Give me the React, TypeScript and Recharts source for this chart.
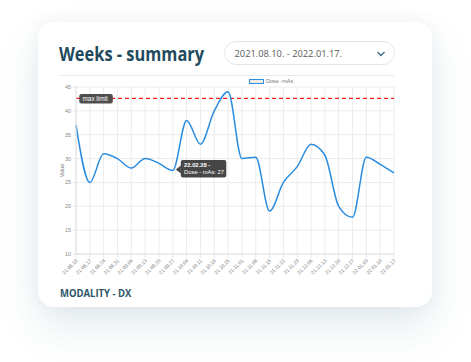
import React from 'react';
import { LineChart, Line, XAxis, YAxis, CartesianGrid, ReferenceLine, ReferenceDot } from 'recharts';

const weekLabels = [
  '21.08.10', '21.08.17', '21.08.24', '21.08.31', '21.09.06', '21.09.13',
  '21.09.20', '21.09.27', '21.10.04', '21.10.11', '21.10.18', '21.10.25',
  '21.11.01', '21.11.08', '21.11.15', '21.11.22', '21.11.29', '21.12.06',
  '21.12.13', '21.12.20', '21.12.27', '22.01.03', '22.01.10', '22.01.17',
];
const doseValues = [
  37, 25, 31, 30, 28, 30,
  29, 27.5, 38, 33, 40, 44,
  30, 30.3, 19, 25, 28.3, 33,
  30.7, 20, 17.7, 30.3, 28.8, 27,
];
const yTicks = [10, 15, 20, 25, 30, 35, 40, 45];
const maxLimit = 42.6;
const tooltipIndex = 7;
const tooltipTitle = '22.02.28 -';
const tooltipBody = 'Dose - mAs: 27';
const seriesName = 'Dose -mAs';

const data = weekLabels.map((w, i) => ({ week: w, dose: doseValues[i] }));

const BLUE = '#2b8ce0';
const TICK_FONT = '"Liberation Sans", Arial, sans-serif';

const XTick = (props: any) => {
  const { x, y, payload } = props;
  const ax = x + 2;
  const ay = y + 1;
  return (
    <text x={ax} y={ay} transform={`rotate(-45 ${ax} ${ay})`} textAnchor="end" fontSize={5} fill="#777" fontFamily={TICK_FONT}>
      {payload.value}
    </text>
  );
};

const YLabel = (props: any) => {
  const vb = props.viewBox || { x: 46, y: 87, width: 30, height: 167 };
  const cx = vb.x + 17.5;
  const cy = vb.y + vb.height / 2;
  return (
    <text x={cx} y={cy} transform={`rotate(-90 ${cx} ${cy})`} textAnchor="middle" fontSize={5.5} fill="#777" fontFamily={TICK_FONT}>
      Value
    </text>
  );
};

const MaxLabel = (props: any) => {
  const vb = props.viewBox || { x: 76, y: 98 };
  const x = vb.x + 3.3;
  const y = vb.y;
  return (
    <g>
      <rect x={x} y={y - 4.5} width={33.5} height={9.5} rx={2} fill="#4e4e4e" />
      <text x={x + 3.2} y={y + 2.4} fontSize={6.4} fill="#fff" fontFamily={TICK_FONT}>max limit</text>
    </g>
  );
};

const TooltipShape = (props: any) => {
  const { cx, cy } = props;
  const bx = cx + 8;
  const by = cy - 10.5;
  return (
    <g>
      <path d={`M ${cx + 3} ${cy - 1} L ${bx} ${cy - 5} L ${bx} ${cy + 3} Z`} fill="rgba(0,0,0,0.72)" />
      <rect x={bx} y={by} width={45.5} height={17.5} rx={2} fill="rgba(0,0,0,0.72)" />
      <text x={bx + 3.3} y={by + 7} fontSize={5.8} fontWeight="bold" fill="#fff" fontFamily={TICK_FONT}>{tooltipTitle}</text>
      <text x={bx + 3.3} y={by + 14.2} fontSize={5.8} fill="#fff" fontFamily={TICK_FONT}>{tooltipBody}</text>
    </g>
  );
};

export default function App() {
  return (
    <div style={{ position: 'absolute', left: 0, top: 0, width: 471, height: 362, background: '#fff', overflow: 'hidden', fontFamily: '"Open Sans", sans-serif' }}>
      <div style={{ position: 'absolute', left: 38, top: 22, width: 394, height: 285, borderRadius: 16, background: '#fff', boxShadow: '0 20px 40px rgba(50,100,120,0.13), 0 0 18px rgba(50,100,120,0.06)' }} />
      <div style={{ position: 'absolute', left: 59, top: 44.4, fontSize: 16.4, lineHeight: '16.4px', fontWeight: 700, color: '#1f4a5e', whiteSpace: 'nowrap', transform: 'scale(1, 1.22)', transformOrigin: '0 0' }}>Weeks - summary</div>
      <div style={{ position: 'absolute', left: 223.5, top: 41, width: 171, height: 24, boxSizing: 'border-box', border: '1px solid #e2e6e8', borderRadius: 12 }} />
      <div style={{ position: 'absolute', left: 234.5, top: 47.8, fontSize: 9.3, lineHeight: '11px', color: '#5a5a5a', whiteSpace: 'nowrap' }}>2021.08.10. - 2022.01.17.</div>
      <svg style={{ position: 'absolute', left: 376, top: 50 }} width={10} height={8}>
        <polyline points="1.5,2 5,5.5 8.5,2" fill="none" stroke="#3d6d85" strokeWidth={1.4} />
      </svg>
      <div style={{ position: 'absolute', left: 59, top: 75, width: 335, height: 1, background: '#e6eced' }} />
      <div style={{ position: 'absolute', left: 249, top: 78.7, width: 15, height: 5.4, boxSizing: 'border-box', border: `1px solid ${BLUE}`, background: '#f1ebe3' }} />
      <div style={{ position: 'absolute', left: 266, top: 77.5, fontSize: 5.5, lineHeight: '7px', color: '#777', fontFamily: TICK_FONT, whiteSpace: 'nowrap' }}>{seriesName}</div>
      <div style={{ position: 'absolute', left: 60, top: 288.2, fontSize: 9.5, lineHeight: '9.5px', fontWeight: 700, color: '#2e5468', whiteSpace: 'nowrap', transform: 'scale(1, 1.08)', transformOrigin: '0 0' }}>MODALITY - DX</div>
      <div style={{ position: 'absolute', left: 0, top: 0 }}>
        <LineChart width={471} height={362} data={data} margin={{ top: 87, right: 77, bottom: 78, left: 46 }}>
          <CartesianGrid stroke="#ececec" strokeWidth={1} vertical horizontal />
          <XAxis dataKey="week" interval={0} height={30} tick={<XTick />} tickSize={4} tickLine={{ stroke: '#e6e6e6' }} axisLine={{ stroke: '#e2e2e2' }} />
          <YAxis type="number" domain={[10, 45]} ticks={yTicks} width={30} tickSize={3} tickMargin={2} tickLine={{ stroke: '#e6e6e6' }} axisLine={{ stroke: '#e2e2e2' }} tick={{ fontSize: 5.5, fill: '#888', fontFamily: TICK_FONT }} label={<YLabel />} />
          <ReferenceLine y={maxLimit} stroke="#ff1a1a" strokeWidth={1.2} strokeDasharray="4 3" label={<MaxLabel />} />
          <Line type="monotone" dataKey="dose" stroke={BLUE} strokeWidth={1.5} dot={false} isAnimationActive={false} />
          <ReferenceDot x={weekLabels[tooltipIndex]} y={doseValues[tooltipIndex]} r={1} fill="none" stroke="none" shape={(p: any) => <TooltipShape {...p} />} />
        </LineChart>
      </div>
    </div>
  );
}
